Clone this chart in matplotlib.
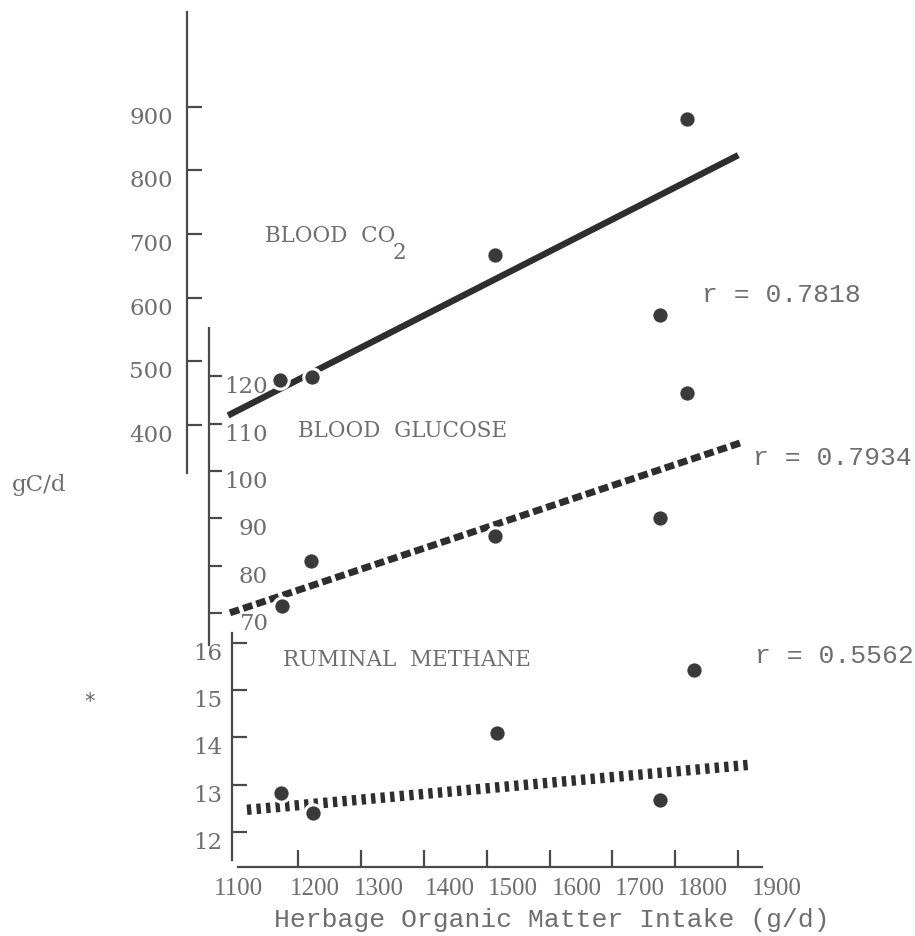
import matplotlib

matplotlib.use("Agg")
import matplotlib.pyplot as plt

W, H = 915, 936
PT = 0.72  # points per pixel at 100 dpi
INK = "#4a4a4a"
DOT = "#3a3a3a"
LINE = "#2e2e2e"
TXT = "#6e6e6e"

# readings
intake_co2 = [1172, 1222, 1514, 1775, 1819]
co2 = [471, 476, 667, 573, 881]
intake_glucose = [1175, 1221, 1514, 1775, 1818]
glucose = [71.4, 81.0, 86.2, 90.0, 116.4]
intake_methane = [1173, 1224, 1517, 1775, 1829]
methane = [12.83, 12.40, 14.10, 12.68, 15.43]

# regression lines as drawn (end points)
co2_fit_x = [1089, 1900]
co2_fit_y = [415, 824]
glucose_fit_x = [1092, 1903]
glucose_fit_y = [70.0, 105.9]
methane_fit_x = [1119, 1916]
methane_fit_y = [12.47, 13.42]

r_values = ["0.7818", "0.7934", "0.5562"]

x_ticks = [1200, 1300, 1400, 1500, 1600, 1700, 1800, 1900]
x_tick_labels = ["1100", "1200", "1300", "1400", "1500", "1600", "1700", "1800", "1900"]
x_label_pos = [1105, 1227, 1328, 1442, 1541, 1644, 1743, 1843, 1961]
co2_ticks = [400, 500, 600, 700, 800, 900]
glucose_ticks = [70, 80, 90, 100, 110, 120]
methane_ticks = [12, 13, 14, 15, 16]

# the axis line itself stops at 1938; the view runs further so the
# typed "1900" label (set off to the right) still shows
X_MIN, X_MAX, X_AXIS_END = 1100, 2014, 1938


def box(left, top, right, bottom):
    """Axes rectangle from pixel edges."""
    return [left / W, 1 - bottom / H, (right - left) / W, (bottom - top) / H]


def style_y(ax, ticks, outward_px, pad_px, length_px):
    for side in ("top", "right", "bottom"):
        ax.spines[side].set_visible(False)
    ax.spines["left"].set_position(("outward", outward_px * PT))
    ax.spines["left"].set_color(INK)
    ax.spines["left"].set_linewidth(1.6)
    ax.set_xticks([])
    ax.set_yticks(ticks)
    ax.tick_params(axis="y", direction="in", length=length_px * PT, width=1.6, color=INK,
                   pad=pad_px * PT, labelsize=16.5, labelcolor=TXT)
    plt.setp(ax.get_yticklabels(), fontfamily="DejaVu Serif", va="top")
    ax.patch.set_visible(False)


def fig_text(x, y, s, **kw):
    fig.text(x / W, 1 - y / H, s, **kw)


fig = plt.figure(figsize=(W / 100, H / 100), dpi=100)

ax_c = fig.add_axes(box(235, 12, 810, 473))
ax_g = fig.add_axes(box(235, 328, 810, 645))
ax_m = fig.add_axes(box(235, 633, 810, 867))

style_y(ax_c, co2_ticks, 48, 14, 15)
style_y(ax_g, glucose_ticks, 26, -59, 13)
style_y(ax_m, methane_ticks, 3, 10, 15)

# shared intake axis on the bottom panel
ax_m.spines["bottom"].set_visible(True)
ax_m.spines["bottom"].set_color(INK)
ax_m.spines["bottom"].set_linewidth(1.6)
ax_m.set_xticks(x_ticks, minor=True)
ax_m.set_xticks(x_label_pos, x_tick_labels)
ax_m.tick_params(axis="x", which="major", length=0, pad=8, labelsize=18, labelcolor=TXT)
ax_m.tick_params(axis="x", which="minor", direction="in", length=12, width=1.6, color=INK)
plt.setp(ax_m.get_xticklabels(), fontfamily="Liberation Serif")

ax_c.set_ylim(324.5, 1049)
ax_g.set_ylim(63.2, 130.2)
ax_m.set_ylim(11.26, 16.21)
for ax in (ax_c, ax_g, ax_m):
    ax.set_xlim(X_MIN, X_MAX)
ax_m.spines["bottom"].set_bounds(1105, X_AXIS_END)
ax_m.spines["left"].set_bounds(11.41, 16.21)

ax_c.plot(co2_fit_x, co2_fit_y, color=LINE, lw=4.6, solid_capstyle="butt", clip_on=False, zorder=2)
ax_g.plot(glucose_fit_x, glucose_fit_y, color=LINE, lw=5, ls=(0, (1.4, 0.6)),
          dash_capstyle="butt", clip_on=False, zorder=2)
ax_m.plot(methane_fit_x, methane_fit_y, color=LINE, lw=7.5, ls=(0, (0.42, 0.5)),
          dash_capstyle="butt", clip_on=False, zorder=2)

for ax, xs, ys in ((ax_c, intake_co2, co2), (ax_g, intake_glucose, glucose),
                   (ax_m, intake_methane, methane)):
    ax.plot(xs, ys, "o", ms=12.5, color=DOT, mec="white", mew=2.2, clip_on=False, zorder=3)

serif = dict(family="DejaVu Serif", color=TXT, fontsize=15.5, va="baseline")
mono = dict(family="Liberation Mono", color=TXT, fontsize=19, va="baseline")

fig_text(265, 242, "BLOOD  CO", **serif)
fig_text(393, 259, "2", **serif)
fig_text(298, 437, "BLOOD  GLUCOSE", **serif)
fig_text(283, 666, "RUMINAL  METHANE", **serif)

fig_text(702, 302, f"r = {r_values[0]}", **mono)
fig_text(753, 465, f"r = {r_values[1]}", **mono)
fig_text(755, 663, f"r = {r_values[2]}", **mono)

fig_text(12, 491, "gC/d", family="DejaVu Serif", color=TXT, fontsize=16.5, va="baseline")
fig_text(90, 708, "*", color="#666666", fontsize=15, ha="center", va="baseline")
fig_text(552, 927, "Herbage Organic Matter Intake (g/d)", ha="center", **mono)

fig.savefig("out.png", dpi=100)
